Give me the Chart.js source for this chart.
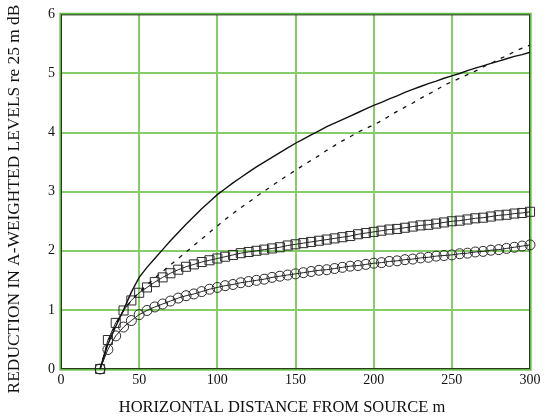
<!DOCTYPE html>
<html>
<head>
<meta charset="utf-8">
<script src="https://cdn.jsdelivr.net/npm/chart.js@4/dist/chart.umd.min.js"></script>
<style>
html,body{margin:0;padding:0;background:#fff;}
#wrap{width:549px;height:419px;position:relative;}
</style>
</head>
<body>
<div id="wrap"><canvas id="c" width="549" height="419"></canvas></div>
<script>
// Distances (m), every 5 m from 25 to 300
const distances = [25,30,35,40,45,50,55,60,65,70,75,80,85,90,95,100,105,110,115,120,125,130,135,140,145,150,155,160,165,170,175,180,185,190,195,200,205,210,215,220,225,230,235,240,245,250,255,260,265,270,275,280,285,290,295,300];

// Solid curve (no markers)
const solidValues = [0,0.42,0.72,1.00,1.30,1.55,1.72,1.87,2.02,2.17,2.31,2.45,2.58,2.71,2.83,2.95,3.05,3.15,3.24,3.33,3.42,3.50,3.58,3.66,3.74,3.82,3.89,3.96,4.03,4.10,4.16,4.22,4.28,4.34,4.40,4.46,4.51,4.57,4.62,4.68,4.73,4.78,4.83,4.87,4.92,4.96,5.00,5.05,5.09,5.13,5.17,5.21,5.25,5.29,5.32,5.36];

// Dashed curve
const dashedValues = [0,0.46,0.76,0.99,1.16,1.30,1.42,1.54,1.65,1.76,1.87,1.98,2.09,2.20,2.31,2.42,2.53,2.63,2.73,2.82,2.92,3.01,3.10,3.19,3.28,3.36,3.45,3.53,3.61,3.70,3.78,3.86,3.93,4.01,4.07,4.13,4.20,4.28,4.36,4.43,4.50,4.58,4.65,4.72,4.80,4.86,4.92,4.98,5.04,5.11,5.17,5.24,5.30,5.37,5.43,5.48];

// Square-marker series
const squareValues = [0,0.49,0.78,0.99,1.16,1.29,1.38,1.47,1.55,1.62,1.68,1.73,1.77,1.81,1.84,1.87,1.90,1.93,1.96,1.98,2.00,2.02,2.04,2.06,2.09,2.11,2.13,2.15,2.17,2.19,2.21,2.23,2.25,2.28,2.30,2.32,2.34,2.36,2.37,2.39,2.41,2.43,2.44,2.46,2.48,2.50,2.51,2.53,2.55,2.56,2.58,2.60,2.61,2.63,2.64,2.66];

// Circle-marker series
const circleValues = [0,0.33,0.56,0.71,0.82,0.92,0.99,1.05,1.10,1.15,1.20,1.24,1.27,1.31,1.35,1.38,1.41,1.43,1.46,1.48,1.50,1.52,1.55,1.57,1.59,1.61,1.63,1.65,1.67,1.68,1.70,1.72,1.74,1.75,1.77,1.79,1.80,1.82,1.83,1.85,1.86,1.88,1.89,1.91,1.92,1.93,1.95,1.96,1.98,1.99,2.01,2.02,2.04,2.06,2.08,2.10];

const xTitle = "HORIZONTAL DISTANCE FROM SOURCE m";
const yTitle = "REDUCTION IN A-WEIGHTED LEVELS re 25 m dB";

const toPts = vals => distances.map((d,i)=>({x:d,y:vals[i]}));

const frame = {
  id:'frame',
  beforeDatasetsDraw(chart){
    const {ctx, chartArea:a} = chart;
    ctx.save();
    ctx.strokeStyle = '#5fb83f';
    ctx.lineWidth = 1.6;
    ctx.strokeRect(a.left-0.8, a.top-0.8, a.right-a.left+1.6, a.bottom-a.top+1.6);
    ctx.strokeStyle = '#2a3a22';
    ctx.lineWidth = 1;
    ctx.strokeRect(a.left+0.5, a.top+0.5, a.right-a.left-1, a.bottom-a.top-1);
    ctx.restore();
  }
};

// Axis titles placed like the original (offset from plot centre)
const axisTitles = {
  id:'axisTitles',
  afterDraw(chart){
    const ctx = chart.ctx;
    ctx.save();
    ctx.fillStyle = '#111';
    ctx.textAlign = 'center';
    ctx.textBaseline = 'middle';
    ctx.font = '16.5px "Liberation Serif"';
    ctx.fillText(xTitle, 282, 408);
    ctx.translate(14, 199);
    ctx.rotate(-Math.PI/2);
    ctx.font = '17.4px "Liberation Serif"';
    ctx.fillText(yTitle, 0, 0);
    ctx.restore();
  }
};

new Chart(document.getElementById('c'), {
  type:'line',
  data:{
    datasets:[
      {data:toPts(solidValues), borderColor:'#111', borderWidth:1.4, pointRadius:0, tension:0, clip:false},
      {data:toPts(dashedValues), borderColor:'#111', borderWidth:1.3, borderDash:[4,6], pointRadius:0, tension:0, clip:false},
      {data:toPts(squareValues), borderColor:'#222', borderWidth:1, pointStyle:'rect', pointRadius:6.4, pointBorderWidth:1, pointBorderColor:'#2a2a2a', pointBackgroundColor:'rgba(0,0,0,0)', tension:0, clip:false},
      {data:toPts(circleValues), borderColor:'#222', borderWidth:1, pointStyle:'circle', pointRadius:5, pointBorderWidth:1, pointBorderColor:'#2a2a2a', pointBackgroundColor:'rgba(0,0,0,0)', tension:0, clip:false}
    ]
  },
  options:{
    responsive:false,
    animation:false,
    events:[],
    layout:{padding:{top:11, right:19, left:0, bottom:0}},
    plugins:{legend:{display:false}, tooltip:{enabled:false}},
    scales:{
      x:{
        type:'linear', min:0, max:300,
        ticks:{stepSize:50, padding:3, color:'#111', font:{family:'Liberation Serif', size:14}},
        grid:{color:'#86cc68', lineWidth:2, drawTicks:false},
        border:{display:false},
        title:{display:false, text:xTitle},
        afterFit(s){ s.height = 50; }
      },
      y:{
        type:'linear', min:0, max:6,
        ticks:{stepSize:1, padding:6, color:'#111', font:{family:'Liberation Serif', size:14}},
        grid:{color:'#86cc68', lineWidth:2, drawTicks:false},
        border:{display:false},
        title:{display:false, text:yTitle},
        afterFit(s){ s.width = 61; }
      }
    }
  },
  plugins:[frame, axisTitles]
});
</script>
</body>
</html>
